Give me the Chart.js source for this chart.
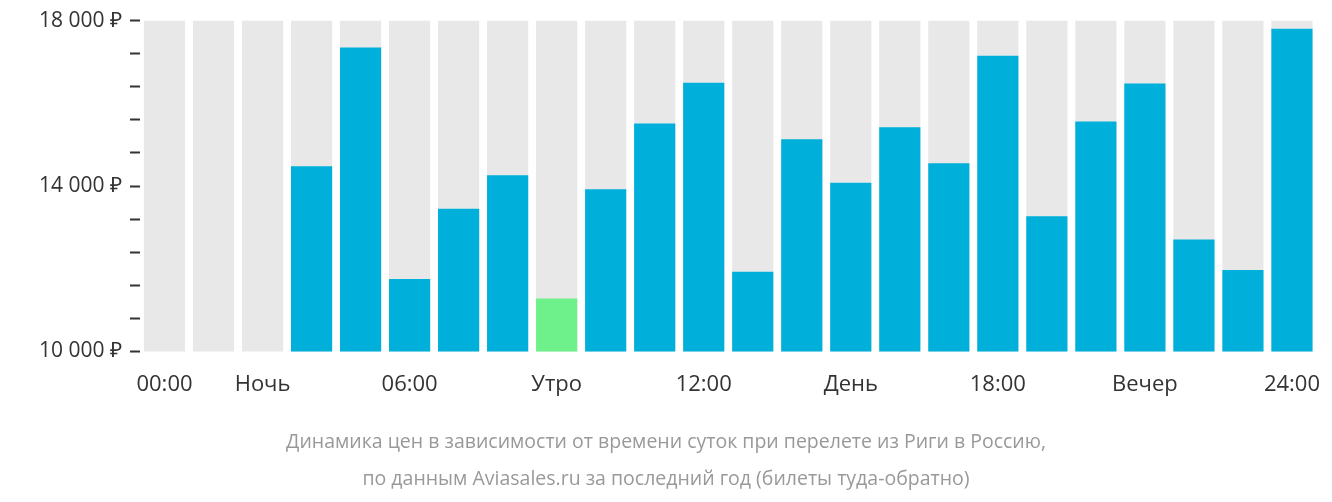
<!DOCTYPE html>
<html>
<head>
<meta charset="utf-8">
<script src="https://cdn.jsdelivr.net/npm/chart.js@4"></script>
<style>
  html, body { margin: 0; padding: 0; background: #fff; }
  #wrap { width: 1332px; height: 502px; }
</style>
</head>
<body>
<div id="wrap"><canvas id="myChart"></canvas></div>
<script>
const hourLabels = ["00:00", "", "Ночь", "", "", "06:00", "", "", "Утро", "", "", "12:00",
  "", "", "День", "", "", "18:00", "", "", "Вечер", "", "", "24:00"];
const prices = [null, null, null, 14480, 17350, 11750, 13450, 14260, 11280, 13920, 15510, 16500,
  11930, 15130, 14080, 15420, 14550, 17150, 13270, 15560, 16480, 12710, 11970, 17800];
const backdrop = hourLabels.map(() => 18000);
const cheapest = 8;
const majorTicks = [10000, 14000, 18000];

const barColors = prices.map((v, i) => i === cheapest ? "#6ef08a" : "#00b0da");

const ctx = document.getElementById('myChart').getContext('2d');
new Chart(ctx, {
  type: "bar",
  data: {
    labels: hourLabels,
    datasets: [
      {
        data: prices,
        backgroundColor: barColors,
        grouped: false,
        order: 1,
        barPercentage: 0.84,
        categoryPercentage: 1,
      },
      {
        data: backdrop,
        backgroundColor: "#e8e8e8",
        grouped: false,
        order: 2,
        barPercentage: 0.84,
        categoryPercentage: 1,
      },
    ],
  },
  options: {
    animation: false,
    responsive: true,
    maintainAspectRatio: false,
    layout: { padding: { top: -4, right: 0, left: 0, bottom: 4 } },
    plugins: {
      legend: { display: false },
      tooltip: { enabled: false },
      title: {
        display: true,
        position: "bottom",
        text: ["Динамика цен в зависимости от времени суток при перелете из Риги в Россию,",
               "по данным Aviasales.ru за последний год (билеты туда-обратно)"],
        color: "#999",
        font: { family: "Open Sans", size: 19.5, weight: "normal", lineHeight: 1.9 },
        padding: { top: 14, bottom: 0 },
      },
    },
    scales: {
      x: {
        grid: { display: false },
        border: { display: false },
        ticks: {
          autoSkip: false,
          maxRotation: 0,
          color: "#333",
          font: { family: "Open Sans", size: 22 },
          padding: 12,
        },
      },
      y: {
        min: 10000,
        max: 18000,
        afterFit: scale => { scale.width = 140; },
        border: { display: false },
        grid: { drawOnChartArea: false, tickLength: 10, color: "#333", tickWidth: 2 },
        ticks: {
          stepSize: 800,
          color: "#333",
          font: { family: "Open Sans", size: 21 },
          padding: 8,
          callback: v => majorTicks.includes(v) ? v.toLocaleString("ru-RU").replace(/\s/g, " ") + " ₽" : "",
        },
      },
    },
  },
});
</script>
</body>
</html>
